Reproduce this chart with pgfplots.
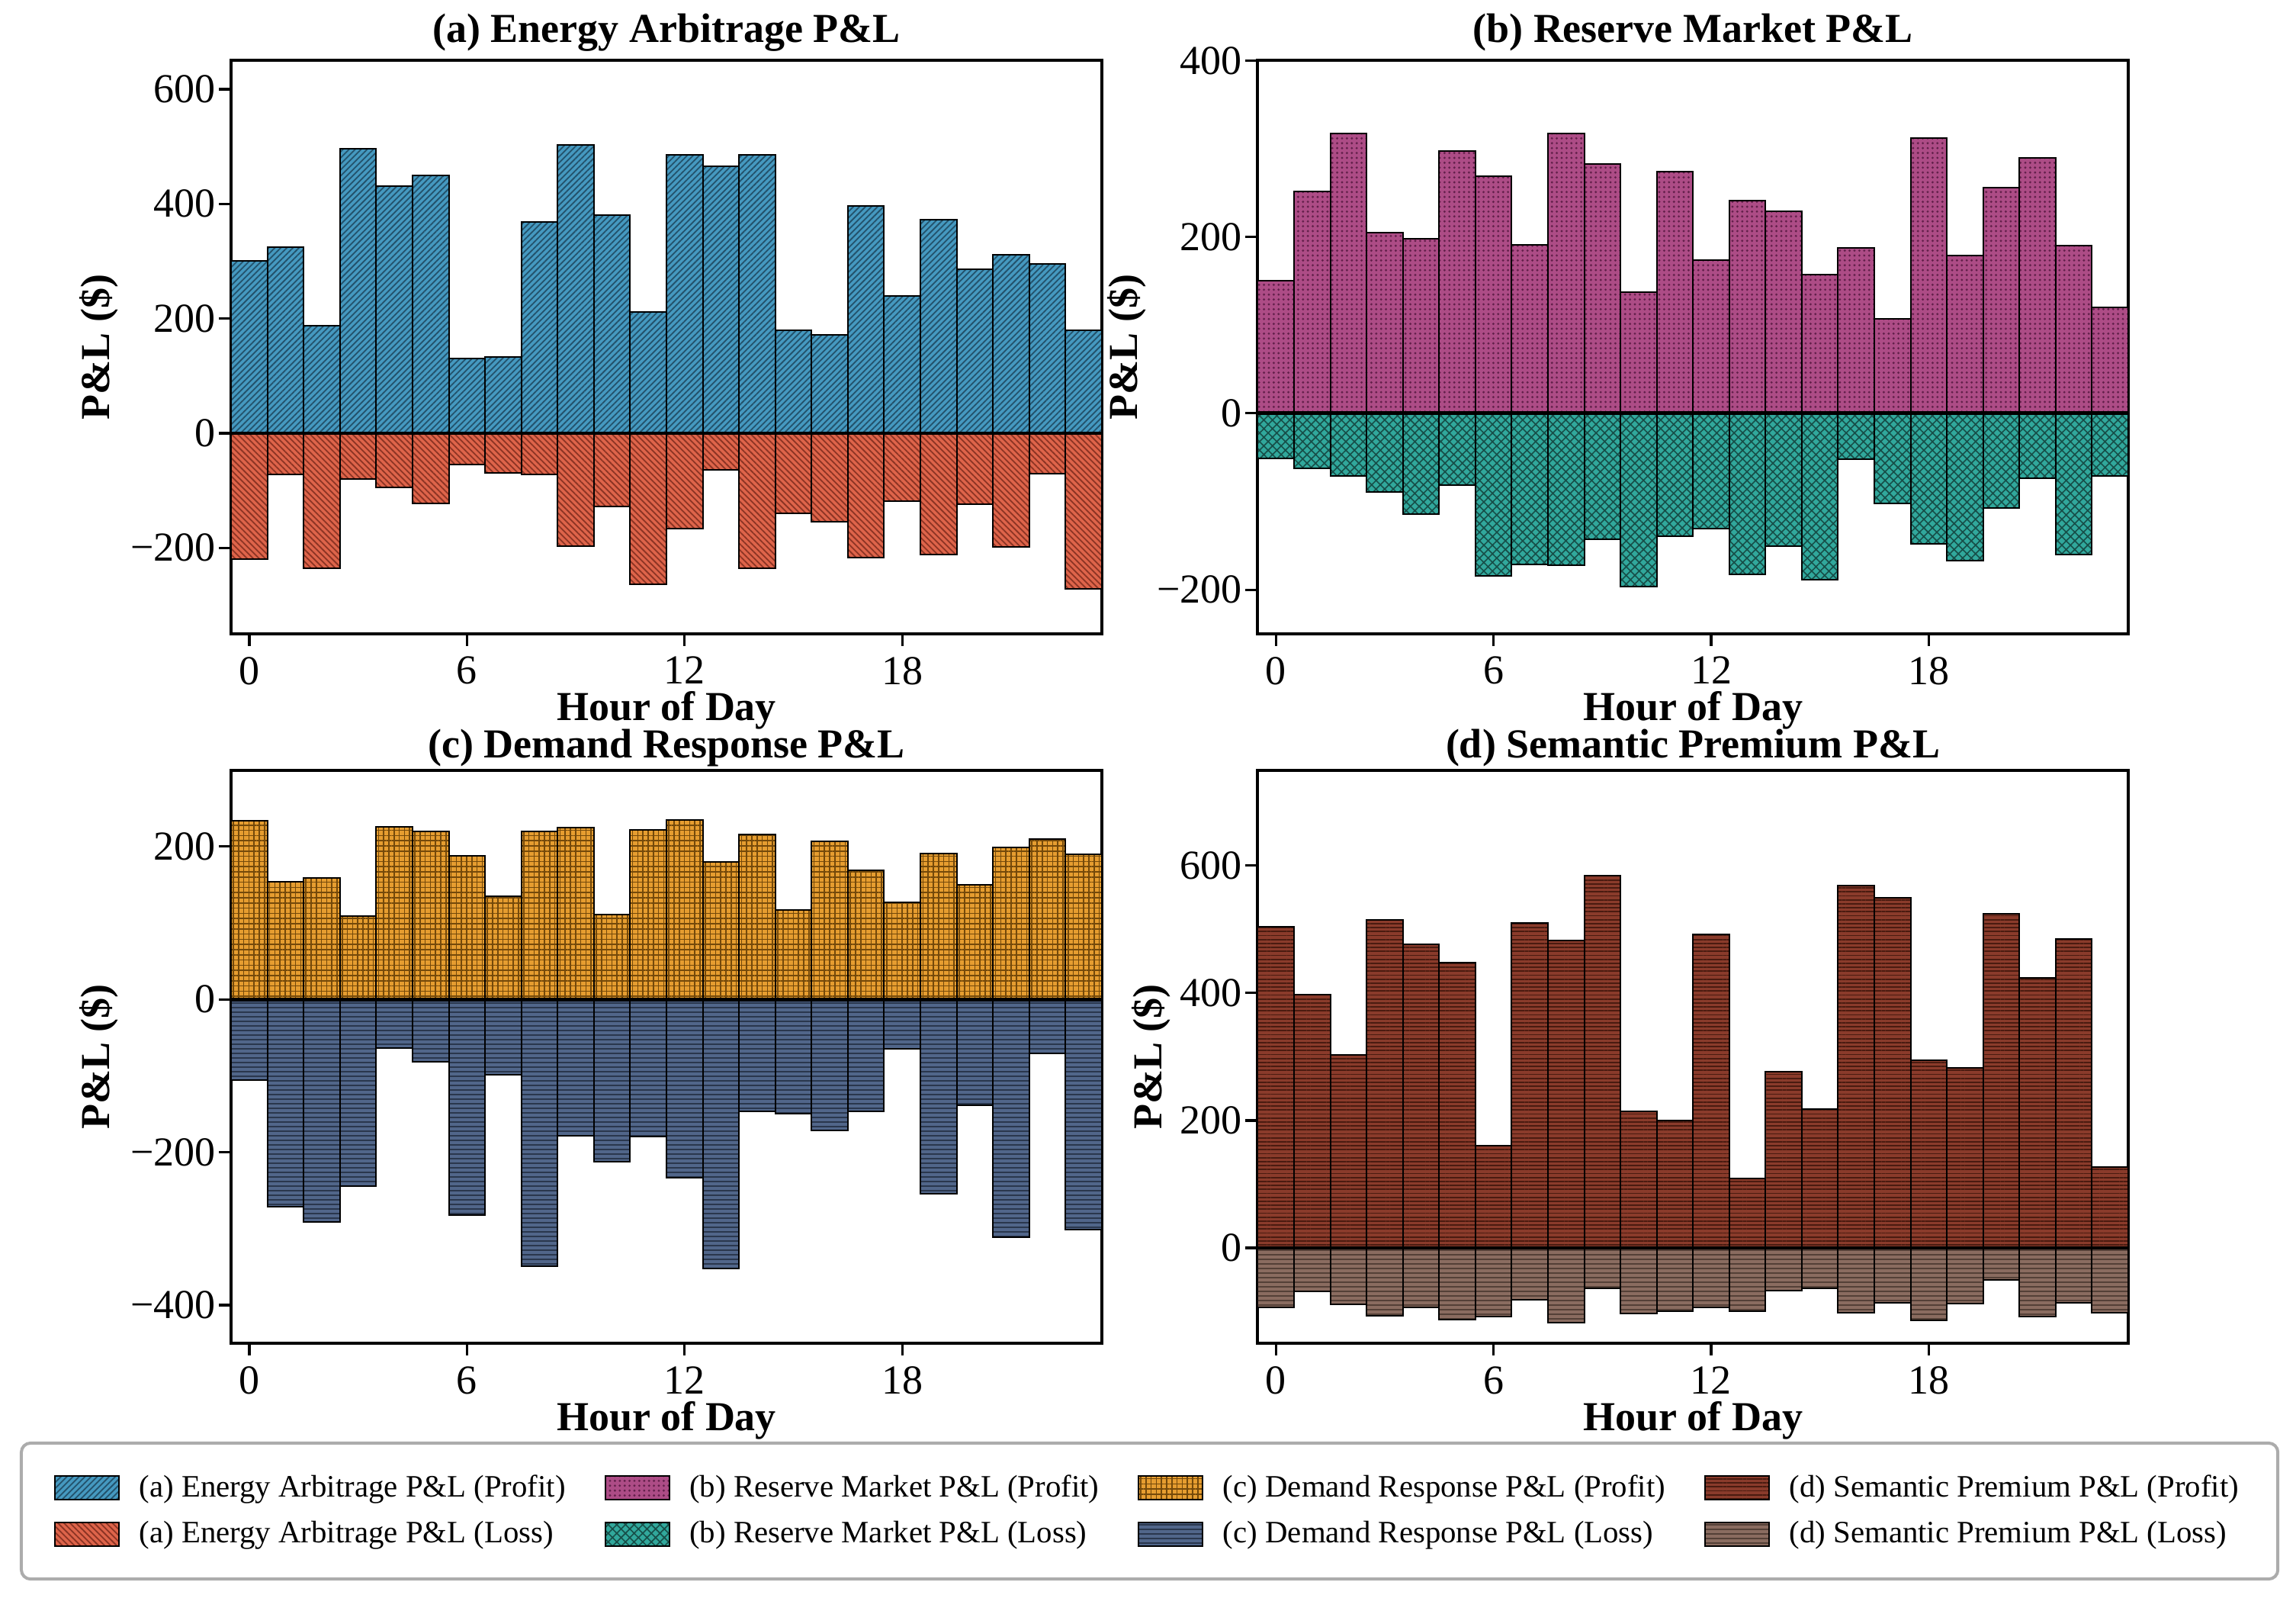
\documentclass[border=0pt]{standalone}
\usepackage{fontspec}
\setmainfont{Liberation Serif}
\usepackage{pgfplots}
\usepackage{pgfplotstable}
\pgfplotsset{compat=1.18}
\usetikzlibrary{patterns.meta}

\definecolor{aP}{HTML}{4599C0}\definecolor{aPh}{HTML}{23526B}
\definecolor{aL}{HTML}{DE644A}\definecolor{aLh}{HTML}{8C3424}
\definecolor{bP}{HTML}{AD4C86}\definecolor{bPh}{HTML}{62204A}
\definecolor{bL}{HTML}{31A89C}\definecolor{bLh}{HTML}{174E48}
\definecolor{cP}{HTML}{E69D30}\definecolor{cPh}{HTML}{74490A}
\definecolor{cL}{HTML}{51668A}\definecolor{cLh}{HTML}{2A374D}
\definecolor{dP}{HTML}{8A3B2B}\definecolor{dPh}{HTML}{4A1B10}
\definecolor{dL}{HTML}{8A6C60}\definecolor{dLh}{HTML}{544037}

\tikzset{
 sty aP/.style={fill=aP, postaction={pattern={Lines[angle=45,distance=1.4pt,line width=0.45pt]}, pattern color=aPh}},
 sty aL/.style={fill=aL, postaction={pattern={Lines[angle=-45,distance=1.4pt,line width=0.45pt]}, pattern color=aLh}},
 sty bP/.style={fill=bP, postaction={pattern={Dots[distance=1.6pt,radius=0.4pt]}, pattern color=bPh}},
 sty bL/.style={fill=bL, postaction={pattern={Hatch[angle=45,distance=2pt,line width=0.4pt]}, pattern color=bLh}},
 sty cP/.style={fill=cP, postaction={pattern={Hatch[angle=0,distance=1.7pt,line width=0.4pt]}, pattern color=cPh}},
 sty cL/.style={fill=cL, postaction={pattern={Lines[angle=0,distance=1.5pt,line width=0.4pt]}, pattern color=cLh}},
 sty dP/.style={fill=dP, postaction={pattern={Lines[angle=0,distance=1.3pt,line width=0.45pt]}, pattern color=dPh}},
 sty dL/.style={fill=dL, postaction={pattern={Lines[angle=0,distance=1.5pt,line width=0.45pt]}, pattern color=dLh}},
}

\pgfplotsset{
 swatch/.style={legend image code/.code={\draw[##1, sharp corners] (0pt,-3.85pt) rectangle (21pt,3.85pt);}},
 bars/.style={ybar, bar width=1, bar shift=0pt, draw=black, line width=0.5pt, swatch},
 every axis title shift=0pt,
 panel/.style={
   scale only axis, width=285.4pt, height=187.9pt, anchor=north west,
   xmin=-0.5, xmax=23.5, xtick={0,6,12,18}, xticklabels={0,6,12,18},
   tick align=outside, tick pos=left, major tick length=4pt,
   tick style={black, line width=0.8pt},
   axis line style={black, line width=1pt},
   ticklabel style={font=\fontsize{13.5}{15}\selectfont},
   yticklabel style={xshift=2.4pt},
   title style={font=\bfseries\fontsize{13.5}{15}\selectfont, at={(axis description cs:0.5,1)}, anchor=center, inner sep=0pt, yshift=9.2pt},
   xlabel={Hour of Day}, ylabel={P\&L (\$)},
   label style={font=\bfseries\fontsize{13.5}{15}\selectfont},
   xlabel style={at={(axis description cs:0.5,-0.134)}, anchor=center, inner sep=0pt},
 },
 lowtitle/.style={title style={yshift=-2pt}},
}

\pgfplotstableread{
h aP aL bP bL cP cL dP dL
0 301 -219 150 -51 234 -106 504 -94
1 325 -72 252 -62 154 -271 397 -68
2 187 -235 317 -71 159 -291 303 -89
3 496 -80 205 -89 109 -244 515 -107
4 431 -94 198 -114 226 -64 477 -94
5 449 -123 297 -81 220 -82 448 -113
6 130 -55 269 -184 188 -282 160 -108
7 133 -69 191 -171 135 -99 510 -82
8 368 -72 317 -172 220 -349 483 -117
9 503 -197 283 -143 225 -178 584 -64
10 380 -128 137 -196 111 -212 214 -103
11 211 -264 274 -139 222 -179 200 -99
12 485 -166 174 -131 235 -233 492 -94
13 466 -64 241 -183 180 -352 109 -100
14 485 -235 229 -151 216 -146 277 -67
15 180 -140 157 -189 117 -149 218 -64
16 171 -154 188 -52 207 -171 569 -102
17 396 -217 107 -102 169 -146 550 -86
18 240 -119 312 -148 127 -65 294 -114
19 372 -212 179 -167 191 -254 283 -88
20 286 -124 256 -107 150 -138 524 -50
21 311 -198 290 -74 199 -311 424 -108
22 295 -71 190 -160 210 -71 485 -86
23 180 -271 120 -71 190 -301 127 -102
}\data

\begin{document}
\begin{tikzpicture}
\useasboundingbox (0,0) rectangle (752.75pt,-523.75pt);

% (a)
\begin{axis}[panel, at={(75.8pt,-19.85pt)},
  title={(a) Energy Arbitrage P\&L},
  ymin=-350, ymax=650, ytick={-200,0,200,400,600}, yticklabels={−200,0,200,400,600},
  ylabel style={at={(axis description cs:-0.152,0.5)}, anchor=center}]
\addplot[bars, sty aP] table[x=h, y=aP] {\data};
\addplot[bars, sty aL] table[x=h, y=aL] {\data};
\draw[black, line width=1.2pt] (axis cs:-0.5,0) -- (axis cs:23.5,0);
\end{axis}

% (b)
\begin{axis}[panel, at={(412.35pt,-19.85pt)},
  title={(b) Reserve Market P\&L},
  ymin=-250, ymax=400, ytick={-200,0,200,400}, yticklabels={−200,0,200,400},
  ylabel style={at={(axis description cs:-0.150,0.5)}, anchor=center}]
\addplot[bars, sty bP] table[x=h, y=bP] {\data};
\addplot[bars, sty bL] table[x=h, y=bL] {\data};
\draw[black, line width=1.2pt] (axis cs:-0.5,0) -- (axis cs:23.5,0);
\end{axis}

% (c)
\begin{axis}[panel, lowtitle, at={(75.8pt,-252.4pt)},
  title={(c) Demand Response P\&L},
  ymin=-450, ymax=300, ytick={-400,-200,0,200}, yticklabels={−400,−200,0,200},
  ylabel style={at={(axis description cs:-0.152,0.5)}, anchor=center}]
\addplot[bars, sty cP] table[x=h, y=cP] {\data};
\addplot[bars, sty cL] table[x=h, y=cL] {\data};
\draw[black, line width=1.2pt] (axis cs:-0.5,0) -- (axis cs:23.5,0);
\end{axis}

% (d)
\begin{axis}[panel, lowtitle, at={(412.35pt,-252.4pt)},
  title={(d) Semantic Premium P\&L},
  ymin=-150, ymax=750, ytick={0,200,400,600}, yticklabels={0,200,400,600},
  ylabel style={at={(axis description cs:-0.122,0.5)}, anchor=center},
  legend columns=4,
  legend cell align=left,
  legend style={at={(axis description cs:-0.1242,-0.1713)}, anchor=north,
    draw=gray!65, line width=1pt, rounded corners=3pt, fill=white,
    font=\fontsize{10.2}{12}\selectfont,
    inner xsep=10.8pt, inner ysep=8.4pt,
    row sep=2.5pt,
    /tikz/every odd column/.append style={column sep=4.4pt},
    /tikz/every even column/.append style={column sep=10.75pt}},
]
\addlegendimage{swatch, draw=black, line width=0.5pt, sty aP}
\addlegendimage{swatch, draw=black, line width=0.5pt, sty bP}
\addlegendimage{swatch, draw=black, line width=0.5pt, sty cP}
\addplot[bars, sty dP] table[x=h, y=dP] {\data};
\addlegendimage{swatch, draw=black, line width=0.5pt, sty aL}
\addlegendimage{swatch, draw=black, line width=0.5pt, sty bL}
\addlegendimage{swatch, draw=black, line width=0.5pt, sty cL}
\addplot[bars, sty dL] table[x=h, y=dL] {\data};
\draw[black, line width=1.2pt] (axis cs:-0.5,0) -- (axis cs:23.5,0);
\legend{(a) Energy Arbitrage P\&L (Profit), (b) Reserve Market P\&L (Profit), (c) Demand Response P\&L (Profit), (d) Semantic Premium P\&L (Profit),
(a) Energy Arbitrage P\&L (Loss), (b) Reserve Market P\&L (Loss), (c) Demand Response P\&L (Loss), (d) Semantic Premium P\&L (Loss)}
\end{axis}
\end{tikzpicture}
\end{document}
